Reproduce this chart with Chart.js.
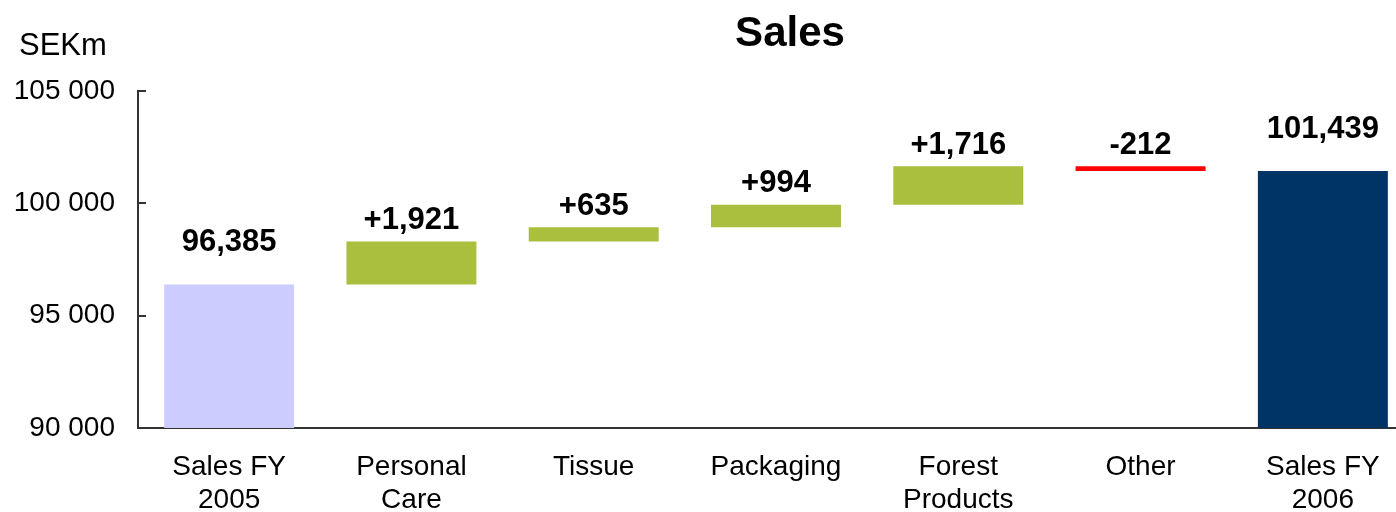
<!DOCTYPE html>
<html>
<head>
<meta charset="utf-8">
<title>Sales</title>
<script src="https://cdn.jsdelivr.net/npm/chart.js@4/dist/chart.umd.min.js"></script>
<style>
  html, body { margin: 0; padding: 0; background: #fff; overflow: hidden; }
  #wrap { position: relative; width: 1420px; height: 520px; }
</style>
</head>
<body>
<div id="wrap"><canvas id="salesChart"></canvas></div>
<script>
// Sales bridge FY2005 -> FY2006 (SEKm)
const categories = [['Sales FY', '2005'], ['Personal', 'Care'], 'Tissue', 'Packaging', ['Forest', 'Products'], 'Other', ['Sales FY', '2006']];
const startTotal = 96385;
const changes = [1921, 635, 994, 1716, -212];
const endTotal = 101439;
const yTickValues = [90000, 95000, 100000, 105000];
const yTickLabels = ['90 000', '95 000', '100 000', '105 000'];

const FONT = "'Liberation Sans', Arial, sans-serif";
const LAVENDER = '#ccccff';
const GREEN = '#a9bf3d';
const RED = '#ff0000';
const NAVY = '#003366';

// floating bars: [low, high] for each category
const ranges = [];
const colors = [];
const labels = [];
ranges.push([90000, startTotal]);
colors.push(LAVENDER);
labels.push(startTotal.toLocaleString('en-US'));
let running = startTotal;
changes.forEach(c => {
  ranges.push([running, running + c]);
  colors.push(c >= 0 ? GREEN : RED);
  labels.push((c >= 0 ? '+' : '-') + Math.abs(c).toLocaleString('en-US'));
  running += c;
});
ranges.push([90000, endTotal]);
colors.push(NAVY);
labels.push(endTotal.toLocaleString('en-US'));

// title, unit, inward ticks and value labels
const decorations = {
  id: 'decorations',
  afterDatasetsDraw(chart) {
    const ctx = chart.ctx;
    const y = chart.scales.y;
    const area = chart.chartArea;
    ctx.save();

    ctx.strokeStyle = '#333';
    ctx.lineWidth = 2;
    yTickValues.forEach(v => {
      const py = Math.round(y.getPixelForValue(v));
      ctx.beginPath();
      ctx.moveTo(area.left, py);
      ctx.lineTo(area.left + 8, py);
      ctx.stroke();
    });

    ctx.fillStyle = '#000';
    ctx.textAlign = 'center';
    ctx.textBaseline = 'middle';
    ctx.font = 'bold 42px ' + FONT;
    ctx.fillText('Sales', 790, 34);

    ctx.textAlign = 'left';
    ctx.font = '31px ' + FONT;
    ctx.fillText('SEKm', 19, 46);

    ctx.textAlign = 'center';
    ctx.font = 'bold 31px ' + FONT;
    const meta = chart.getDatasetMeta(0);
    meta.data.forEach((bar, i) => {
      const isTotal = i === 0 || i === meta.data.length - 1;
      const top = Math.min(bar.y, bar.base);
      ctx.fillText(labels[i], bar.x, top - (isTotal ? 42 : 21));
    });
    ctx.restore();
  }
};

new Chart(document.getElementById('salesChart'), {
  type: 'bar',
  data: {
    labels: categories,
    datasets: [{
      data: ranges,
      backgroundColor: colors,
      borderWidth: 0,
      borderSkipped: false,
      barPercentage: 0.713,
      categoryPercentage: 1
    }]
  },
  options: {
    responsive: true,
    maintainAspectRatio: false,
    animation: false,
    layout: { padding: { top: 91, left: 14, right: 6, bottom: 3 } },
    plugins: {
      legend: { display: false },
      tooltip: { enabled: false },
      title: { display: false }
    },
    scales: {
      x: {
        afterFit(scale) { scale.height = 89; },
        grid: { display: false, drawTicks: false },
        border: { display: true, color: '#333', width: 2 },
        ticks: {
          color: '#000',
          padding: 22,
          maxRotation: 0,
          autoSkip: false,
          font: { family: FONT, size: 28, lineHeight: 1.2 }
        }
      },
      y: {
        min: 90000,
        max: 105000,
        afterBuildTicks(scale) {
          scale.ticks = yTickValues.map(v => ({ value: v }));
        },
        afterFit(scale) { scale.width = 124; },
        grid: { display: false, drawTicks: false },
        border: { display: true, color: '#333', width: 2 },
        ticks: {
          color: '#000',
          padding: 23,
          font: { family: FONT, size: 28 },
          callback: (v) => yTickLabels[yTickValues.indexOf(v)]
        }
      }
    }
  },
  plugins: [decorations]
});
</script>
</body>
</html>
